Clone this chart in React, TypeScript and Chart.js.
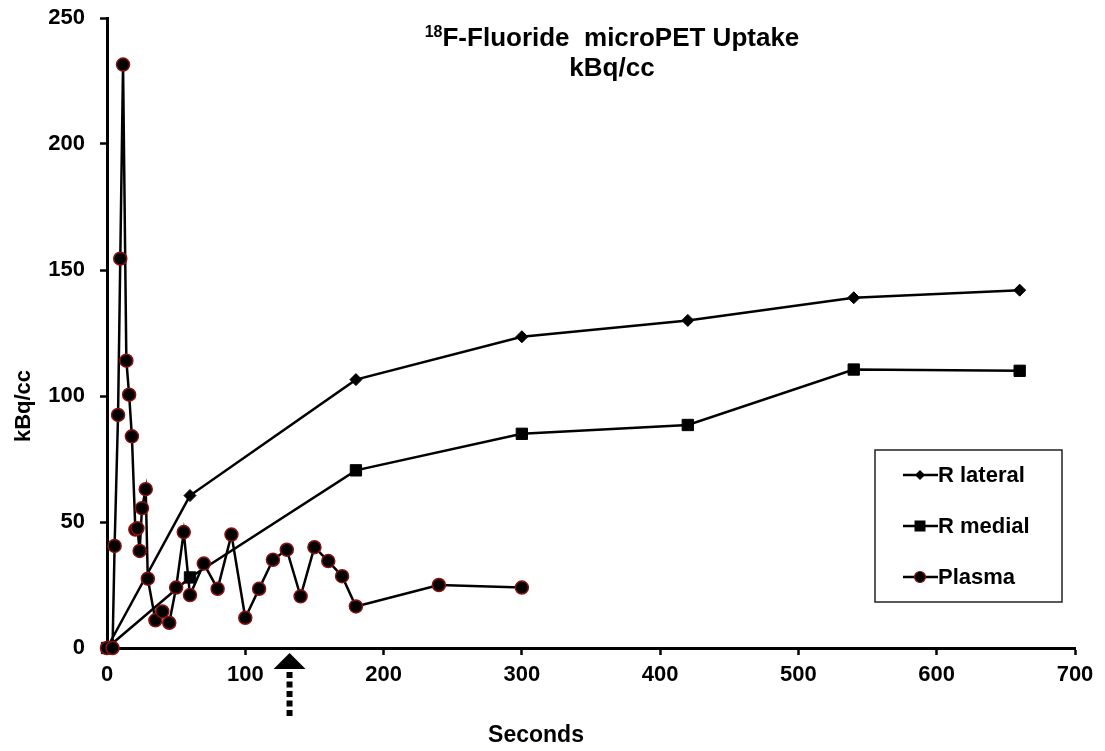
import React, { useEffect, useRef } from 'react';
import { Chart, registerables } from 'chart.js';

Chart.register(...registerables);

const FONT = '"Liberation Sans", Arial, Helvetica, sans-serif';

// ---- text ----
const titleSup = '18';
const titleMain = 'F-Fluoride  microPET Uptake';
const titleLine2 = 'kBq/cc';
const xAxisTitle = 'Seconds';
const yAxisTitle = 'kBq/cc';
const legendLabels = ['R lateral', 'R medial', 'Plasma'];

// ---- data ----
const tissueTimes = [0, 60, 180, 300, 420, 540, 660];
const rLateral = [0, 60.5, 106.5, 123.5, 130, 139, 142];
const rMedial = [0, 28, 70.5, 85, 88.5, 110.5, 110];

const plasmaTimes = [
  0, 4, 5.5, 8, 9.6, 11.6, 14, 16, 18, 20.5, 22, 23.6, 25.3, 28, 29.5,
  35, 40, 45, 50, 55.5, 60, 70, 80, 90, 100, 110, 120, 130, 140, 150,
  160, 170, 180, 240, 300,
];
const plasmaValues = [
  0, 0, 40.5, 92.5, 154.5, 231.5, 114, 100.5, 84, 47, 47.5, 38.5, 55.5, 63, 27.5,
  11, 14.5, 10, 24, 46, 21, 33.5, 23.5, 45, 12, 23.5, 35, 39, 20.5, 40,
  34.5, 28.5, 16.5, 25, 24,
];

// ---- axis ----
const xMin = 0;
const xMax = 700;
const xStep = 100;
const yMin = 0;
const yMax = 250;
const yStep = 50;
const arrowTime = 132;

const toPoints = (xs: number[], ys: number[]) => xs.map((x, i) => ({ x, y: ys[i] }));

const overlay = {
  id: 'overlay',
  afterDraw(chart: any) {
    const ctx: CanvasRenderingContext2D = chart.ctx;
    const xs = chart.scales.x;
    ctx.save();
    ctx.fillStyle = '#000';
    ctx.strokeStyle = '#000';

    // Title
    ctx.textBaseline = 'alphabetic';
    ctx.font = `bold 16px ${FONT}`;
    const supW = ctx.measureText(titleSup).width;
    ctx.font = `bold 26px ${FONT}`;
    const mainW = ctx.measureText(titleMain).width;
    const tcx = 612;
    const startX = tcx - (supW + mainW) / 2;
    ctx.textAlign = 'left';
    ctx.font = `bold 16px ${FONT}`;
    ctx.fillText(titleSup, startX, 37);
    ctx.font = `bold 26px ${FONT}`;
    ctx.fillText(titleMain, startX + supW, 46);
    ctx.textAlign = 'center';
    ctx.fillText(titleLine2, tcx, 76);

    // Axis titles
    ctx.font = `bold 23px ${FONT}`;
    ctx.textAlign = 'center';
    ctx.textBaseline = 'middle';
    ctx.fillText(xAxisTitle, 536, 736);
    ctx.save();
    ctx.translate(24, 406);
    ctx.rotate(-Math.PI / 2);
    ctx.font = `bold 22px ${FONT}`;
    ctx.fillText(yAxisTitle, 0, 0);
    ctx.restore();

    // Legend
    const bx = 875, by = 450, bw = 187, bh = 152;
    ctx.lineWidth = 1.5;
    ctx.strokeStyle = '#222';
    ctx.strokeRect(bx, by, bw, bh);
    ctx.strokeStyle = '#000';
    const rows = [475, 526, 577];
    ctx.font = `bold 22px ${FONT}`;
    ctx.textAlign = 'left';
    ctx.textBaseline = 'middle';
    rows.forEach((ry, i) => {
      ctx.lineWidth = 2.5;
      ctx.beginPath();
      ctx.moveTo(903, ry);
      ctx.lineTo(938, ry);
      ctx.stroke();
      const mx = 920;
      ctx.fillStyle = '#000';
      if (i === 0) {
        ctx.beginPath();
        ctx.moveTo(mx, ry - 5);
        ctx.lineTo(mx + 5, ry);
        ctx.lineTo(mx, ry + 5);
        ctx.lineTo(mx - 5, ry);
        ctx.closePath();
        ctx.fill();
      } else if (i === 1) {
        ctx.fillRect(mx - 5.5, ry - 5.5, 11, 11);
      } else {
        ctx.beginPath();
        ctx.arc(mx, ry, 5.5, 0, Math.PI * 2);
        ctx.fill();
        ctx.lineWidth = 1.2;
        ctx.strokeStyle = '#8b1010';
        ctx.stroke();
        ctx.strokeStyle = '#000';
      }
      ctx.fillStyle = '#000';
      ctx.fillText(legendLabels[i], 938, ry + 1);
    });

    // Arrow
    const ax = xs.getPixelForValue(arrowTime);
    ctx.beginPath();
    ctx.moveTo(ax, 653);
    ctx.lineTo(ax + 16, 669);
    ctx.lineTo(ax - 16, 669);
    ctx.closePath();
    ctx.fill();
    ctx.lineWidth = 6;
    ctx.setLineDash([6, 3.5]);
    ctx.beginPath();
    ctx.moveTo(ax, 672);
    ctx.lineTo(ax, 719);
    ctx.stroke();
    ctx.setLineDash([]);
    ctx.restore();
  },
};

export default function App() {
  const ref = useRef<HTMLCanvasElement | null>(null);
  useEffect(() => {
    if (!ref.current) return;
    const tickFont = { family: FONT, size: 22, weight: 'bold' as const };
    const chart = new Chart(ref.current, {
      type: 'line',
      data: {
        datasets: [
          {
            label: legendLabels[2],
            data: toPoints(plasmaTimes, plasmaValues),
            borderColor: '#000',
            borderWidth: 2.5,
            pointStyle: 'circle',
            pointRadius: 6.5,
            pointBackgroundColor: '#000',
            pointBorderColor: '#8b1010',
            pointBorderWidth: 1.5,
            tension: 0,
            clip: false,
          },
          {
            label: legendLabels[0],
            data: toPoints(tissueTimes, rLateral),
            borderColor: '#000',
            borderWidth: 2.5,
            pointStyle: 'rectRot',
            pointRadius: 6,
            pointBackgroundColor: '#000',
            pointBorderColor: '#000',
            pointBorderWidth: 1,
            tension: 0,
            clip: false,
          },
          {
            label: legendLabels[1],
            data: toPoints(tissueTimes, rMedial),
            borderColor: '#000',
            borderWidth: 2.5,
            pointStyle: 'rect',
            pointRadius: 8,
            pointBackgroundColor: '#000',
            pointBorderColor: '#000',
            pointBorderWidth: 1,
            tension: 0,
            clip: false,
          },
        ] as any,
      },
      options: {
        animation: false,
        responsive: false,
        events: [],
        layout: { padding: { top: 18, right: 30, left: 0, bottom: 0 } },
        plugins: {
          legend: { display: false },
          tooltip: { enabled: false },
          title: { display: false },
        },
        scales: {
          x: {
            type: 'linear',
            min: xMin,
            max: xMax,
            ticks: { stepSize: xStep, font: tickFont, color: '#000', padding: 7 },
            grid: { drawOnChartArea: false, drawTicks: true, tickLength: 7, tickColor: '#000', tickWidth: 2.5 },
            border: { color: '#000', width: 3 },
            afterFit(s: any) { s.height = 103; s.paddingLeft = 0; s.paddingRight = 0; },
          },
          y: {
            type: 'linear',
            min: yMin,
            max: yMax,
            ticks: { stepSize: yStep, font: tickFont, color: '#000', padding: 15 },
            grid: { drawOnChartArea: false, drawTicks: true, tickLength: 7, tickColor: '#000', tickWidth: 2.5 },
            border: { color: '#000', width: 3 },
            afterFit(s: any) { s.width = 107; s.paddingTop = 0; s.paddingBottom = 0; },
          },
        },
      } as any,
      plugins: [overlay],
    });
    return () => chart.destroy();
  }, []);
  return (
    <div style={{ position: 'absolute', left: 0, top: 0, width: 1105, height: 751, background: '#fff' }}>
      <canvas ref={ref} width={1105} height={751} style={{ display: 'block' }} />
    </div>
  );
}
